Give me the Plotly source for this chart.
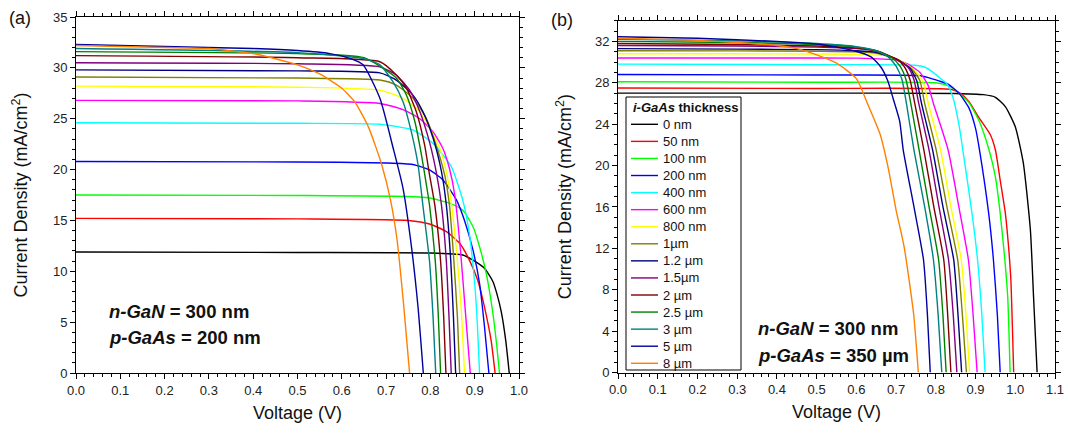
import plotly.graph_objects as go

# ---------------- data ----------------
names = ["0 nm", "50 nm", "100 nm", "200 nm", "400 nm", "600 nm", "800 nm", "1\u00b5m",
         "1.2 \u00b5m", "1.5\u00b5m", "2 \u00b5m", "2.5 \u00b5m", "3 \u00b5m", "5 \u00b5m", "8 \u00b5m"]
colors = ["#000000", "#FF0000", "#00FF00", "#0000FF", "#00FFFF", "#FF00FF", "#FFFF00", "#808000",
          "#000080", "#800080", "#800000", "#008000", "#008080", "#0000A0", "#FF8000"]

# Panel (a): n-GaN 300 nm, p-GaAs 200 nm
va_0 = [0, 0.5, 0.8, 0.873, 0.896, 0.922, 0.941, 0.95, 0.96, 0.97, 0.978]
ja_0 = [11.9, 11.85, 11.8, 11.6, 11.1, 10.3, 9.0, 7.8, 6.0, 3.2, 0]
va_50 = [0, 0.5, 0.75, 0.798, 0.836, 0.866, 0.888, 0.907, 0.922, 0.937, 0.946]
ja_50 = [15.2, 15.15, 15.0, 14.65, 13.9, 12.75, 11.1, 9.1, 6.5, 3.2, 0]
va_100 = [0, 0.5, 0.75, 0.798, 0.843, 0.873, 0.896, 0.911, 0.926, 0.941, 0.95, 0.956]
ja_100 = [17.5, 17.45, 17.35, 17.2, 16.7, 16.0, 14.4, 12.4, 9.8, 5.9, 2.6, 0]
va_200 = [0, 0.5, 0.7, 0.76, 0.798, 0.828, 0.859, 0.877, 0.896, 0.911, 0.922, 0.932]
ja_200 = [20.8, 20.75, 20.65, 20.5, 19.96, 19.0, 17.0, 15.0, 12.1, 8.8, 4.6, 0]
va_400 = [0, 0.5, 0.686, 0.76, 0.805, 0.847, 0.873, 0.888, 0.9, 0.906, 0.911]
ja_400 = [24.6, 24.55, 24.45, 23.9, 22.6, 20.3, 17.0, 13.7, 8.8, 4.8, 0]
va_600 = [0, 0.5, 0.686, 0.738, 0.776, 0.806, 0.828, 0.843, 0.855, 0.868, 0.879, 0.89]
ja_600 = [26.8, 26.75, 26.5, 25.9, 25.0, 23.7, 22.1, 20.1, 17.5, 12.0, 6.0, 0]
va_800 = [0, 0.5, 0.686, 0.738, 0.776, 0.798, 0.821, 0.836, 0.847, 0.86, 0.87, 0.877]
ja_800 = [28.2, 28.1, 27.8, 27.0, 25.7, 24.1, 22.1, 19.8, 16.8, 11.5, 6.0, 0]
va_1000 = [0, 0.5, 0.686, 0.723, 0.761, 0.791, 0.813, 0.832, 0.843, 0.853, 0.861, 0.866]
ja_1000 = [29.1, 29.0, 28.8, 28.3, 27.0, 25.0, 22.4, 19.5, 16.5, 11.0, 5.5, 0]
va_1200 = [0, 0.5, 0.686, 0.723, 0.761, 0.783, 0.806, 0.825, 0.836, 0.846, 0.852, 0.857]
ja_1200 = [29.8, 29.7, 29.5, 28.8, 27.3, 25.7, 23.1, 19.8, 16.5, 11.0, 5.5, 0]
va_1500 = [0, 0.5, 0.686, 0.723, 0.753, 0.776, 0.798, 0.813, 0.825, 0.836, 0.842, 0.847]
ja_1500 = [30.5, 30.4, 30.1, 29.3, 27.8, 25.7, 22.7, 19.8, 16.5, 11.0, 5.5, 0]
va_2000 = [0, 0.5, 0.686, 0.723, 0.746, 0.768, 0.787, 0.798, 0.81, 0.823, 0.83, 0.835]
ja_2000 = [31.2, 31.0, 30.6, 29.3, 28.0, 25.7, 22.4, 19.5, 16.5, 11.0, 5.5, 0]
va_2500 = [0, 0.5, 0.65, 0.723, 0.746, 0.765, 0.78, 0.791, 0.798, 0.811, 0.818, 0.823]
ja_2500 = [31.6, 31.4, 31.0, 29.0, 27.3, 24.7, 21.4, 18.5, 16.5, 11.0, 5.5, 0]
va_3000 = [0, 0.5, 0.65, 0.686, 0.716, 0.738, 0.757, 0.772, 0.783, 0.798, 0.806, 0.812]
ja_3000 = [31.9, 31.5, 30.9, 30.3, 28.6, 26.7, 23.7, 20.5, 16.5, 11.0, 5.5, 0]
va_5000 = [0, 0.2, 0.4, 0.5, 0.573, 0.62, 0.648, 0.686, 0.716, 0.738, 0.757, 0.772, 0.784]
ja_5000 = [32.3, 32.1, 31.9, 31.7, 31.4, 30.9, 30.3, 27.0, 22.1, 18.2, 12.5, 6.5, 0]
va_8000 = [0, 0.1, 0.2, 0.3, 0.4, 0.45, 0.5, 0.55, 0.6, 0.63, 0.66, 0.69, 0.71, 0.725, 0.74, 0.753]
ja_8000 = [32.2, 32.1, 32.0, 31.9, 31.4, 30.9, 30.3, 29.4, 28.0, 26.6, 24.2, 20.5, 17.0, 13.0, 6.5, 0]

# Panel (b): n-GaN 300 nm, p-GaAs 350 um
vb_0 = [0, 0.5, 0.85, 0.92, 0.95, 0.975, 1.0, 1.02, 1.038, 1.046, 1.055]
jb_0 = [27.0, 27.0, 26.97, 26.85, 26.6, 25.7, 23.75, 20.3, 13.8, 7.3, 0]
vb_50 = [0, 0.5, 0.84, 0.861, 0.883, 0.909, 0.937, 0.95, 0.962, 0.975, 0.983, 0.989, 0.993, 0.996]
jb_50 = [27.5, 27.45, 27.35, 27.0, 26.2, 24.6, 23.0, 21.5, 18.6, 15.4, 12.2, 8.9, 4.1, 0]
vb_100 = [0, 0.5, 0.8, 0.832, 0.849, 0.861, 0.883, 0.909, 0.934, 0.95, 0.962, 0.973, 0.981, 0.987]
jb_100 = [28.1, 28.05, 28.0, 27.7, 27.3, 26.9, 26.1, 24.3, 21.5, 18.9, 15.4, 11.2, 7.3, 0]
vb_200 = [0, 0.5, 0.756, 0.781, 0.806, 0.832, 0.858, 0.883, 0.9, 0.91, 0.933, 0.945, 0.955, 0.962]
jb_200 = [28.8, 28.75, 28.7, 28.5, 28.2, 27.85, 27.0, 25.6, 23.6, 21.5, 15.4, 10.9, 5.5, 0]
vb_400 = [0, 0.5, 0.747, 0.773, 0.79, 0.806, 0.828, 0.843, 0.858, 0.868, 0.891, 0.905, 0.916, 0.924]
jb_400 = [29.8, 29.75, 29.7, 29.5, 29.1, 28.6, 27.9, 26.6, 24.0, 21.5, 15.4, 10.9, 5.5, 0]
vb_600 = [0, 0.3, 0.5, 0.6, 0.7, 0.73, 0.76, 0.78, 0.794, 0.831, 0.858, 0.882, 0.894, 0.904]
jb_600 = [30.4, 30.4, 30.4, 30.38, 30.2, 29.8, 29.0, 27.8, 26.0, 21.5, 16.0, 10.9, 5.5, 0]
vb_800 = [0, 0.3, 0.5, 0.6, 0.68, 0.71, 0.745, 0.768, 0.781, 0.812, 0.838, 0.864, 0.876, 0.885]
jb_800 = [30.8, 30.8, 30.78, 30.75, 30.6, 30.2, 29.2, 28.1, 26.0, 21.5, 16.0, 10.9, 5.5, 0]
vb_1000 = [0, 0.3, 0.5, 0.6, 0.65, 0.7, 0.74, 0.76, 0.772, 0.801, 0.828, 0.855, 0.867, 0.877]
jb_1000 = [31.1, 31.08, 31.05, 31.0, 30.85, 30.3, 29.3, 28.2, 26.0, 21.5, 16.0, 10.9, 5.5, 0]
vb_1200 = [0, 0.3, 0.5, 0.6, 0.65, 0.7, 0.735, 0.752, 0.764, 0.792, 0.818, 0.845, 0.856, 0.865]
jb_1200 = [31.3, 31.25, 31.2, 31.1, 30.95, 30.3, 29.4, 28.2, 26.0, 21.5, 16.0, 10.9, 5.5, 0]
vb_1500 = [0, 0.3, 0.5, 0.6, 0.65, 0.7, 0.73, 0.745, 0.757, 0.783, 0.808, 0.832, 0.844, 0.853]
jb_1500 = [31.6, 31.55, 31.45, 31.3, 31.05, 30.3, 29.5, 28.3, 26.0, 21.5, 16.0, 10.9, 5.5, 0]
vb_2000 = [0, 0.3, 0.5, 0.6, 0.65, 0.7, 0.72, 0.735, 0.747, 0.77, 0.795, 0.82, 0.83, 0.838]
jb_2000 = [31.8, 31.7, 31.55, 31.35, 31.1, 30.3, 29.6, 28.3, 26.0, 21.5, 16.0, 10.9, 5.5, 0]
vb_2500 = [0, 0.3, 0.5, 0.6, 0.65, 0.69, 0.71, 0.725, 0.737, 0.758, 0.783, 0.807, 0.818, 0.826]
jb_2500 = [32.0, 31.9, 31.7, 31.45, 31.1, 30.4, 29.6, 28.3, 26.0, 21.5, 16.0, 10.9, 5.5, 0]
vb_3000 = [0, 0.3, 0.5, 0.6, 0.65, 0.68, 0.7, 0.715, 0.726, 0.745, 0.772, 0.794, 0.806, 0.815]
jb_3000 = [32.2, 32.05, 31.8, 31.5, 31.1, 30.5, 29.6, 28.3, 26.0, 21.5, 16.0, 10.9, 5.5, 0]
vb_5000 = [0, 0.2, 0.4, 0.51, 0.594, 0.637, 0.662, 0.679, 0.692, 0.709, 0.718, 0.745, 0.769, 0.779, 0.786]
jb_5000 = [32.45, 32.3, 32.0, 31.7, 31.1, 30.5, 29.5, 28.2, 26.55, 24.3, 21.5, 16.0, 10.9, 5.5, 0]
vb_8000 = [0, 0.1, 0.2, 0.3, 0.4, 0.45, 0.5, 0.55, 0.6, 0.63, 0.66, 0.68, 0.7, 0.72, 0.744, 0.756]
jb_8000 = [32.3, 32.2, 32.1, 31.9, 31.6, 31.3, 30.7, 29.9, 28.4, 25.8, 23.0, 19.8, 15.7, 12.2, 5.7, 0]

panel_a = [(va_0, ja_0), (va_50, ja_50), (va_100, ja_100), (va_200, ja_200), (va_400, ja_400),
           (va_600, ja_600), (va_800, ja_800), (va_1000, ja_1000), (va_1200, ja_1200),
           (va_1500, ja_1500), (va_2000, ja_2000), (va_2500, ja_2500), (va_3000, ja_3000),
           (va_5000, ja_5000), (va_8000, ja_8000)]
panel_b = [(vb_0, jb_0), (vb_50, jb_50), (vb_100, jb_100), (vb_200, jb_200), (vb_400, jb_400),
           (vb_600, jb_600), (vb_800, jb_800), (vb_1000, jb_1000), (vb_1200, jb_1200),
           (vb_1500, jb_1500), (vb_2000, jb_2000), (vb_2500, jb_2500), (vb_3000, jb_3000),
           (vb_5000, jb_5000), (vb_8000, jb_8000)]

# ---------------- figure ----------------
W, H = 1068, 438
FONT = "Arial, Liberation Sans, sans-serif"
LW = 1.4
fig = go.Figure()

for i, (v, j) in enumerate(panel_a):
    fig.add_trace(go.Scatter(x=v, y=j, mode="lines", xaxis="x", yaxis="y",
                             line=dict(color=colors[i], width=LW, shape="spline", smoothing=0.55),
                             showlegend=False, name=names[i]))
for i, (v, j) in enumerate(panel_b):
    fig.add_trace(go.Scatter(x=v, y=j, mode="lines", xaxis="x2", yaxis="y2",
                             line=dict(color=colors[i], width=LW, shape="spline", smoothing=0.55),
                             showlegend=False, name=names[i]))

def px_x(p):
    return p / W

def px_y(p):
    return 1 - p / H

axis_common = dict(showline=True, linecolor="black", linewidth=1, mirror="allticks",
                   ticks="outside", ticklen=5, tickwidth=1, tickcolor="black",
                   showgrid=False, zeroline=False, automargin=False,
                   tickfont=dict(family=FONT, size=13, color="#222"),
                   title_font=dict(family=FONT, size=18, color="#111"))
minor_common = dict(ticks="outside", ticklen=3, tickwidth=1, tickcolor="black", showgrid=False)

fig.update_layout(
    width=W, height=H,
    margin=dict(l=0, r=0, t=0, b=0, autoexpand=False),
    paper_bgcolor="white", plot_bgcolor="white",
    font=dict(family=FONT, color="#111"),
    showlegend=False,
    xaxis=dict(axis_common, domain=[px_x(76), px_x(519)], range=[0, 1.0], anchor="y",
               dtick=0.1, tick0=0, tickformat=".1f", title=dict(text="Voltage (V)", standoff=9),
               minor=dict(minor_common, dtick=0.02)),
    yaxis=dict(axis_common, domain=[px_y(373), px_y(17)], range=[0, 35], anchor="x",
               dtick=5, tick0=0, title=dict(text="Current Density (mA/cm<sup>2</sup>)", standoff=20),
               minor=dict(minor_common, dtick=1)),
    xaxis2=dict(axis_common, domain=[px_x(618), px_x(1055)], range=[0, 1.1], anchor="y2",
                dtick=0.1, tick0=0, tickformat=".1f", title=dict(text="Voltage (V)", standoff=9),
                minor=dict(minor_common, dtick=0.02)),
    yaxis2=dict(axis_common, domain=[px_y(372.5), px_y(20.7)], range=[0, 34], anchor="x2",
                dtick=4, tick0=0, title=dict(text="Current Density (mA/cm<sup>2</sup>)", standoff=18),
                minor=dict(minor_common, dtick=1)),
)

# ---- legend box for panel (b) (built from names / colors) ----
LEG_L, LEG_R, LEG_T, LEG_B = 626, 741, 97, 370
LEG_Y0, LEG_DY = 124.3, 17.07
shapes = [dict(type="rect", xref="paper", yref="paper",
               x0=px_x(LEG_L), x1=px_x(LEG_R), y0=px_y(LEG_B), y1=px_y(LEG_T),
               line=dict(color="black", width=1), fillcolor="white", layer="above")]
annotations = [dict(text="<b><i>i-GaAs</i> thickness</b>", x=px_x(631), y=px_y(107.3),
                    xanchor="left", yanchor="middle",
                    font=dict(family=FONT, size=13, color="#111"))]
for i, nm in enumerate(names):
    yy = LEG_Y0 + LEG_DY * i
    shapes.append(dict(type="line", xref="paper", yref="paper",
                       x0=px_x(631), x1=px_x(658), y0=px_y(yy), y1=px_y(yy),
                       line=dict(color=colors[i], width=LW), layer="above"))
    annotations.append(dict(text=nm, x=px_x(661), y=px_y(yy), xanchor="left", yanchor="middle",
                            font=dict(family=FONT, size=13, color="#111")))

ann_font = dict(family=FONT, size=18.5, color="#111")
annotations += [
    dict(text="(a)", x=px_x(7), y=px_y(18), xanchor="left", yanchor="middle",
         font=dict(family=FONT, size=18, color="#111")),
    dict(text="(b)", x=px_x(549), y=px_y(20), xanchor="left", yanchor="middle",
         font=dict(family=FONT, size=18, color="#111")),
    dict(text="<b><i>n-GaN</i> = 300 nm</b>", x=px_x(107), y=px_y(311), xanchor="left", yanchor="middle", font=ann_font),
    dict(text="<b><i>p-GaAs</i> = 200 nm</b>", x=px_x(107), y=px_y(337), xanchor="left", yanchor="middle", font=ann_font),
    dict(text="<b><i>n-GaN</i> = 300 nm</b>", x=px_x(756), y=px_y(328), xanchor="left", yanchor="middle", font=ann_font),
    dict(text="<b><i>p-GaAs</i> = 350 \u00b5m</b>", x=px_x(756), y=px_y(355), xanchor="left", yanchor="middle", font=ann_font),
]
for a in annotations:
    a.update(xref="paper", yref="paper", showarrow=False)
fig.update_layout(annotations=annotations, shapes=shapes)

fig.write_html("out.html")
